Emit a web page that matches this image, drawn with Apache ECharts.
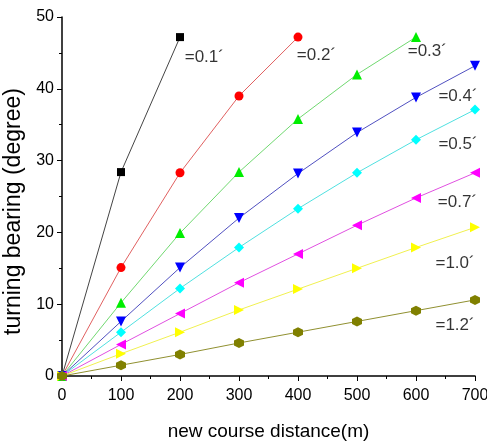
<!DOCTYPE html>
<html>
<head>
<meta charset="utf-8">
<script src="https://cdn.jsdelivr.net/npm/echarts@6/dist/echarts.min.js"></script>
<style>
  html, body { margin: 0; padding: 0; background: #fff; }
  #main { width: 487px; height: 448px; }
</style>
</head>
<body>
<div id="main"></div>
<script>
// x values (m)
var distance = [0, 100, 200, 300, 400, 500, 600, 700];

// turning bearing (degree) per curve
var names = ['0.1', '0.2', '0.3', '0.4', '0.5', '0.7', '1.0', '1.2'];
var s01 = [0, 28.4, 47.2];
var s02 = [0, 15.1, 28.3, 39.0, 47.2];
var s03 = [0, 10.2, 19.9, 28.4, 35.8, 42.0, 47.2];
var s04 = [0, 7.6, 15.1, 22.0, 28.2, 33.9, 38.8, 43.2];
var s05 = [0, 6.1, 12.2, 17.9, 23.3, 28.3, 32.9, 37.1];
var s07 = [0, 4.4, 8.7, 13.0, 17.0, 21.0, 24.8, 28.3];
var s10 = [0, 3.1, 6.1, 9.2, 12.1, 15.0, 17.9, 20.7];
var s12 = [0, 1.5, 3.0, 4.6, 6.1, 7.6, 9.1, 10.6];

// curve annotations: text and anchor in data units
var labelText = ['=0.1\u00b4', '=0.2\u00b4', '=0.3\u00b4', '=0.4\u00b4', '=0.5\u00b4', '=0.7\u00b4', '=1.0\u00b4', '=1.2\u00b4'];
var labelX = [208, 398, 586, 638, 638, 637, 633, 633];
var labelY = [44.4, 44.6, 45.2, 38.9, 32.3, 24.2, 15.7, 7.0];

var allData = [s01, s02, s03, s04, s05, s07, s10, s12];
var colors = ['#000000', '#ff0000', '#00ee00', '#0000ff', '#00ffff', '#ff00ff', '#ffff00', '#808000'];
var lineColors = ['#444444', '#e06060', '#70d870', '#5050c0', '#50e0e0', '#e050e0', '#f0f050', '#909030'];
var hexagon = 'path://M50,0 L93,25 L93,75 L50,100 L7,75 L7,25 Z';
var symbols = ['rect', 'circle', 'triangle', 'triangle', 'diamond', 'triangle', 'triangle', hexagon];
var rotates = [0, 0, 0, 180, 0, 90, -90, 0];
var sizes = [8, 9, 10, 10, 10, 10, 10, 10];

var series = allData.map(function(arr, i) {
    return {
        name: names[i],
        type: 'line',
        data: arr.map(function(v, k) { return [distance[k], v]; }),
        symbol: symbols[i],
        symbolRotate: rotates[i],
        symbolSize: sizes[i],
        itemStyle: { color: colors[i] },
        lineStyle: { color: lineColors[i], width: 1 },
        z: 3
    };
});

// text annotations
series.push({
    type: 'scatter',
    symbolSize: 0,
    silent: true,
    data: labelText.map(function(t, i) { return { value: [labelX[i], labelY[i]], name: t }; }),
    label: {
        show: true,
        position: 'right',
        distance: 0,
        formatter: '{b}',
        color: '#000',
        fontSize: 17,
        fontFamily: 'Liberation Sans, Arial, sans-serif'
    },
    z: 4
});

var chart = echarts.init(document.getElementById('main'));
chart.setOption({
    animation: false,
    backgroundColor: '#fff',
    grid: { left: 62, right: 12, top: 17, bottom: 72, outerBoundsMode: 'none' },
    xAxis: {
        type: 'value',
        min: 0, max: 700, interval: 100,
        name: 'new course distance(m)',
        nameLocation: 'middle',
        nameGap: 46,
        nameTextStyle: { fontSize: 19, color: '#000', fontFamily: 'Liberation Sans, Arial, sans-serif' },
        axisLine: { lineStyle: { color: '#000', width: 1.5 } },
        axisTick: { inside: false, length: 5, lineStyle: { color: '#000' } },
        minorTick: { show: true, splitNumber: 2, length: 3, lineStyle: { color: '#000' } },
        axisLabel: { fontSize: 16, color: '#000', margin: 12, fontFamily: 'Liberation Sans, Arial, sans-serif' },
        splitLine: { show: false }
    },
    yAxis: {
        type: 'value',
        min: 0, max: 50, interval: 10,
        name: 'turning bearing (degree)',
        nameLocation: 'middle',
        nameGap: 33,
        nameTextStyle: { fontSize: 23, color: '#000', padding: [0, 30, 0, 0], fontFamily: 'Liberation Sans, Arial, sans-serif' },
        axisLine: { show: true, lineStyle: { color: '#000', width: 1.5 } },
        axisTick: { show: true, inside: false, length: 5, lineStyle: { color: '#000' } },
        minorTick: { show: true, splitNumber: 2, length: 3, lineStyle: { color: '#000' } },
        axisLabel: { fontSize: 16, color: '#000', margin: 8, fontFamily: 'Liberation Sans, Arial, sans-serif' },
        splitLine: { show: false }
    },
    series: series
});
</script>
</body>
</html>
